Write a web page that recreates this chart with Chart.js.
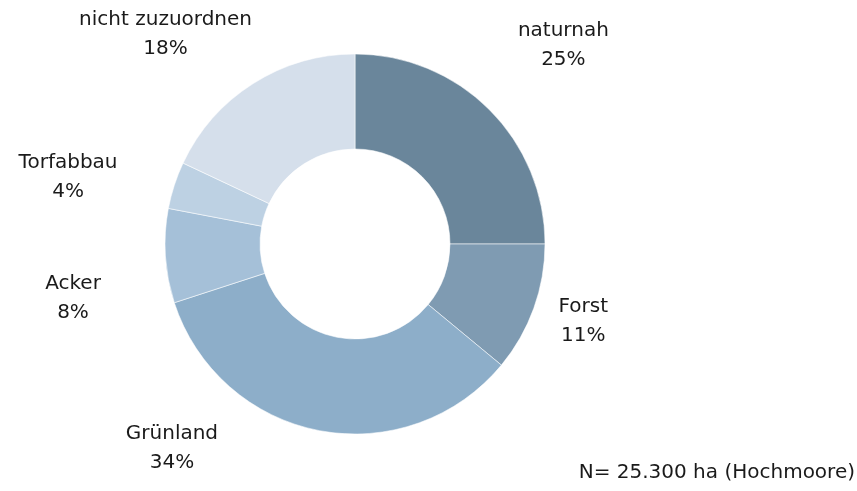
<!DOCTYPE html>
<html>
<head>
<meta charset="utf-8">
<script src="https://cdn.jsdelivr.net/npm/chart.js@4"></script>
<style>
    html, body { margin: 0; padding: 0; background: #ffffff; }
    #wrap { width: 857px; height: 491px; position: relative; }
</style>
</head>
<body>
<div id="wrap"><canvas id="donut"></canvas></div>
<script>
// Data
const categories = ['naturnah', 'Forst', 'Grünland', 'Acker', 'Torfabbau', 'nicht zuzuordnen'];
const shares = [25, 11, 34, 8, 4, 18];
const sliceColors = ['#6a869b', '#7f9bb2', '#8daec9', '#a5c0d8', '#bdd1e3', '#d5dfeb'];
const footnote = 'N= 25.300 ha (Hochmoore)';

// Nudges for each label away from its slice (pixels)
const labelNudge = [[27, -17], [-13, -10], [-135, -48], [-26, 38], [-43, 13], [-52, 7]];

const FONT = '20px "DejaVu Sans", sans-serif';

// Draw the category + percent labels around the ring and the footnote
const labelPlugin = {
    id: 'outsideLabels',
    afterDatasetsDraw(chart) {
        const ctx = chart.ctx;
        const arcs = chart.getDatasetMeta(0).data;
        ctx.save();
        ctx.font = FONT;
        ctx.fillStyle = '#1a1a1a';
        ctx.textAlign = 'center';
        ctx.textBaseline = 'middle';
        arcs.forEach((arc, i) => {
            const p = arc.getProps(['x', 'y', 'startAngle', 'endAngle', 'outerRadius'], true);
            const mid = (p.startAngle + p.endAngle) / 2;
            const r = p.outerRadius * 1.35;
            const lx = p.x + Math.cos(mid) * r + labelNudge[i][0];
            const ly = p.y + Math.sin(mid) * r + labelNudge[i][1];
            ctx.fillText(categories[i], lx, ly - 14.5);
            ctx.fillText(shares[i] + '%', lx, ly + 14.5);
        });
        ctx.textAlign = 'right';
        ctx.fillText(footnote, 855, 473);
        ctx.restore();
    }
};

new Chart(document.getElementById('donut').getContext('2d'), {
    type: 'doughnut',
    data: {
        labels: categories,
        datasets: [{
            data: shares,
            backgroundColor: sliceColors,
            borderColor: 'rgba(255,255,255,0.55)',
            borderWidth: 1
        }]
    },
    options: {
        responsive: true,
        maintainAspectRatio: false,
        animation: false,
        radius: 190,
        cutout: '50%',
        layout: { padding: { left: 0, right: 147, top: 0, bottom: 3 } },
        plugins: {
            legend: { display: false },
            tooltip: { enabled: false }
        }
    },
    plugins: [labelPlugin]
});
</script>
</body>
</html>
